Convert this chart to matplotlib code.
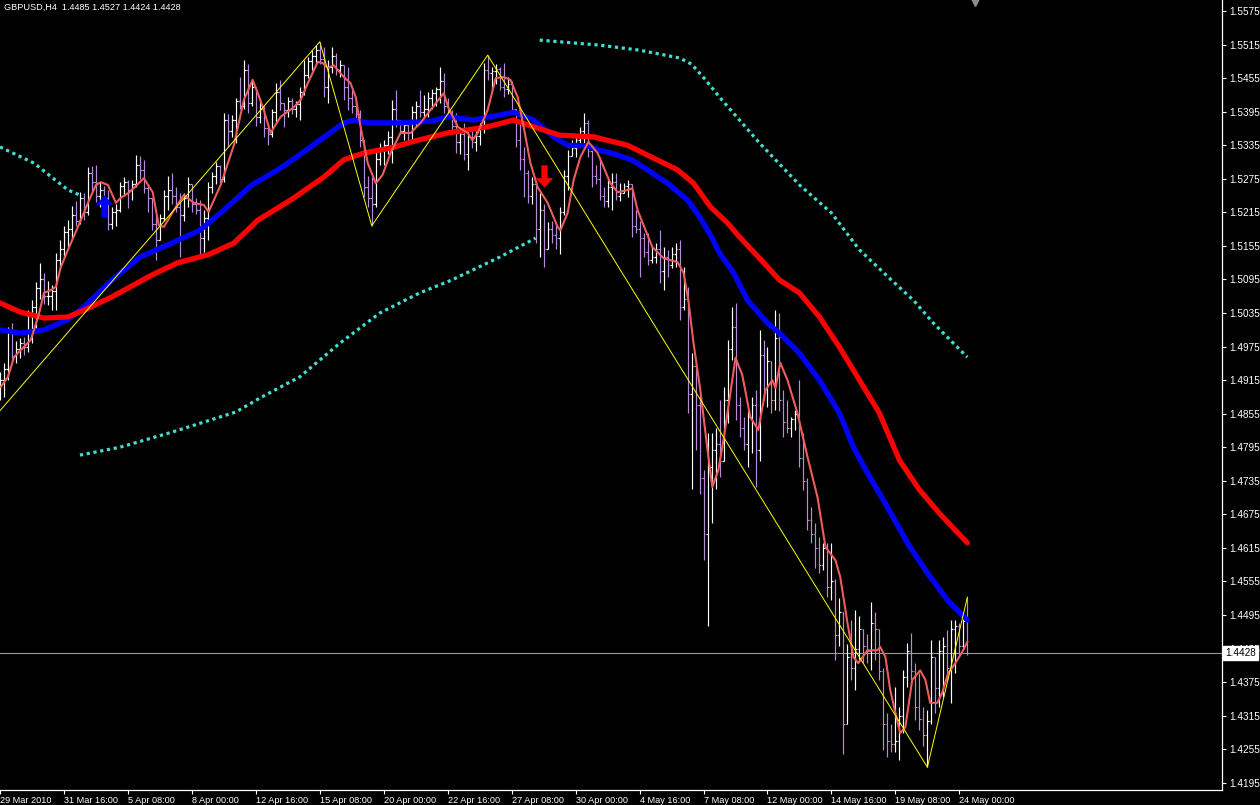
import numpy as np
import matplotlib
matplotlib.use("Agg")
import matplotlib.pyplot as plt
from matplotlib.path import Path
from matplotlib.transforms import blended_transform_factory

# ---------------- data ----------------
symbol = "GBPUSD,H4"
first_open = 1.4895

highs = [
    1.4930, 1.4945, 1.5010, 1.5017, 1.4985, 1.4990, 1.4992, 1.5040, 1.5058, 1.5090,
    1.5124, 1.5106, 1.5092, 1.5085, 1.5142, 1.5166, 1.5190, 1.5201, 1.5226, 1.5235,
    1.5251, 1.5250, 1.5296, 1.5298, 1.5300, 1.5270, 1.5262, 1.5255, 1.5225, 1.5230,
    1.5270, 1.5278, 1.5273, 1.5273, 1.5318, 1.5315, 1.5309, 1.5266, 1.5240, 1.5210,
    1.5212, 1.5255, 1.5280, 1.5285, 1.5260, 1.5250, 1.5250, 1.5278, 1.5265, 1.5240,
    1.5237, 1.5219, 1.5270, 1.5287, 1.5305, 1.5300, 1.5393, 1.5390, 1.5389, 1.5420,
    1.5457, 1.5487, 1.5480, 1.5450, 1.5440, 1.5420, 1.5405, 1.5372, 1.5400, 1.5446,
    1.5452, 1.5410, 1.5421, 1.5420, 1.5415, 1.5439, 1.5487, 1.5493, 1.5505, 1.5515,
    1.5520, 1.5511, 1.5487, 1.5511, 1.5500, 1.5487, 1.5478, 1.5475, 1.5434, 1.5420,
    1.5398, 1.5344, 1.5280, 1.5278, 1.5326, 1.5339, 1.5345, 1.5360, 1.5416, 1.5434,
    1.5380, 1.5380, 1.5375, 1.5405, 1.5415, 1.5434, 1.5425, 1.5430, 1.5435, 1.5439,
    1.5475, 1.5465, 1.5420, 1.5398, 1.5393, 1.5365, 1.5375, 1.5362, 1.5365, 1.5360,
    1.5375, 1.5482, 1.5496, 1.5475, 1.5480, 1.5475, 1.5482, 1.5457, 1.5450, 1.5400,
    1.5375, 1.5332, 1.5291, 1.5278, 1.5270, 1.5250, 1.5230, 1.5197, 1.5200, 1.5195,
    1.5224, 1.5291, 1.5326, 1.5345, 1.5350, 1.5368, 1.5393, 1.5380, 1.5326, 1.5300,
    1.5314, 1.5260, 1.5278, 1.5285, 1.5285, 1.5268, 1.5268, 1.5273, 1.5265, 1.5220,
    1.5200, 1.5178, 1.5178, 1.5155, 1.5160, 1.5183, 1.5153, 1.5148, 1.5153, 1.5160,
    1.5165, 1.5117, 1.5081, 1.4963, 1.4951, 1.4890, 1.4754, 1.4820, 1.4820, 1.4830,
    1.4879, 1.4903, 1.4987, 1.5046, 1.5053, 1.4885, 1.4850, 1.4862, 1.4885, 1.4897,
    1.5005, 1.4987, 1.4975, 1.4950, 1.5040, 1.5035, 1.4897, 1.4879, 1.4850, 1.4862,
    1.4915, 1.4820, 1.4740, 1.4688, 1.4660, 1.4635, 1.4624, 1.4624, 1.4624, 1.4560,
    1.4525, 1.4500, 1.4443, 1.4486, 1.4504, 1.4493, 1.4470, 1.4461, 1.4518, 1.4500,
    1.4470, 1.4400, 1.4320, 1.4300, 1.4366, 1.4330, 1.4396, 1.4445, 1.4463, 1.4410,
    1.4391, 1.4330, 1.4325, 1.4450, 1.4420, 1.4450, 1.4456, 1.4468, 1.4486, 1.4486,
    1.4480, 1.4500, 1.4527,
]
lows = [
    1.4880, 1.4885, 1.4915, 1.4950, 1.4945, 1.4955, 1.4960, 1.4965, 1.4981, 1.5005,
    1.5060, 1.5052, 1.5050, 1.5040, 1.5040, 1.5112, 1.5135, 1.5150, 1.5166, 1.5190,
    1.5195, 1.5201, 1.5210, 1.5250, 1.5233, 1.5225, 1.5216, 1.5183, 1.5185, 1.5190,
    1.5215, 1.5245, 1.5223, 1.5237, 1.5260, 1.5275, 1.5250, 1.5215, 1.5183, 1.5130,
    1.5166, 1.5200, 1.5219, 1.5230, 1.5216, 1.5135, 1.5200, 1.5225, 1.5215, 1.5212,
    1.5139, 1.5144, 1.5166, 1.5250, 1.5265, 1.5267, 1.5270, 1.5332, 1.5350, 1.5339,
    1.5400, 1.5400, 1.5393, 1.5405, 1.5370, 1.5375, 1.5350, 1.5335, 1.5350, 1.5375,
    1.5398, 1.5368, 1.5386, 1.5390, 1.5385, 1.5380, 1.5425, 1.5455, 1.5470, 1.5482,
    1.5480, 1.5421, 1.5411, 1.5464, 1.5460, 1.5457, 1.5416, 1.5398, 1.5393, 1.5380,
    1.5332, 1.5243, 1.5225, 1.5191, 1.5225, 1.5300, 1.5300, 1.5320, 1.5303, 1.5368,
    1.5355, 1.5344, 1.5335, 1.5345, 1.5370, 1.5386, 1.5385, 1.5385, 1.5400, 1.5405,
    1.5411, 1.5393, 1.5385, 1.5362, 1.5321, 1.5320, 1.5309, 1.5291, 1.5330, 1.5325,
    1.5335, 1.5357, 1.5452, 1.5430, 1.5445, 1.5434, 1.5421, 1.5427, 1.5390, 1.5332,
    1.5291, 1.5242, 1.5232, 1.5230, 1.5160, 1.5135, 1.5117, 1.5150, 1.5160, 1.5150,
    1.5140, 1.5210, 1.5255, 1.5315, 1.5314, 1.5338, 1.5330, 1.5314, 1.5260, 1.5265,
    1.5237, 1.5225, 1.5224, 1.5219, 1.5237, 1.5235, 1.5250, 1.5243, 1.5171, 1.5178,
    1.5099, 1.5135, 1.5120, 1.5125, 1.5125, 1.5089, 1.5076, 1.5099, 1.5115, 1.5117,
    1.5023, 1.5040, 1.4856, 1.4720, 1.4790, 1.4711, 1.4593, 1.4475, 1.4660, 1.4720,
    1.4742, 1.4770, 1.4838, 1.4951, 1.4844, 1.4813, 1.4790, 1.4760, 1.4785, 1.4724,
    1.4770, 1.4879, 1.4867, 1.4856, 1.4862, 1.4860, 1.4813, 1.4820, 1.4813, 1.4826,
    1.4760, 1.4719, 1.4647, 1.4624, 1.4580, 1.4570, 1.4575, 1.4527, 1.4522, 1.4414,
    1.4440, 1.4246, 1.4300, 1.4379, 1.4361, 1.4411, 1.4409, 1.4409, 1.4396, 1.4414,
    1.4379, 1.4254, 1.4241, 1.4250, 1.4250, 1.4236, 1.4284, 1.4366, 1.4379, 1.4307,
    1.4289, 1.4260, 1.4223, 1.4300, 1.4320, 1.4330, 1.4348, 1.4379, 1.4338, 1.4391,
    1.4420, 1.4438, 1.4424,
]
closes = [
    1.4915, 1.4935, 1.5000, 1.4958, 1.4970, 1.4982, 1.4975, 1.5030, 1.5045, 1.5080,
    1.5095, 1.5065, 1.5066, 1.5075, 1.5130, 1.5150, 1.5180, 1.5185, 1.5210, 1.5200,
    1.5240, 1.5215, 1.5285, 1.5270, 1.5245, 1.5255, 1.5240, 1.5195, 1.5215, 1.5220,
    1.5262, 1.5270, 1.5255, 1.5265, 1.5300, 1.5290, 1.5258, 1.5240, 1.5195, 1.5165,
    1.5205, 1.5245, 1.5255, 1.5245, 1.5225, 1.5210, 1.5240, 1.5265, 1.5230, 1.5220,
    1.5170, 1.5205, 1.5260, 1.5280, 1.5298, 1.5275, 1.5380, 1.5360, 1.5380, 1.5415,
    1.5405, 1.5470, 1.5410, 1.5440, 1.5385, 1.5400, 1.5365, 1.5355, 1.5395, 1.5430,
    1.5410, 1.5398, 1.5415, 1.5400, 1.5408, 1.5430, 1.5460, 1.5485, 1.5495, 1.5505,
    1.5490, 1.5440, 1.5475, 1.5495, 1.5470, 1.5478, 1.5440, 1.5420, 1.5405, 1.5390,
    1.5345, 1.5260, 1.5240, 1.5230, 1.5310, 1.5330, 1.5335, 1.5350, 1.5400, 1.5380,
    1.5360, 1.5372, 1.5345, 1.5395, 1.5405, 1.5395, 1.5400, 1.5420, 1.5428, 1.5435,
    1.5450, 1.5405, 1.5395, 1.5370, 1.5340, 1.5355, 1.5320, 1.5350, 1.5340, 1.5352,
    1.5370, 1.5470, 1.5465, 1.5468, 1.5472, 1.5440, 1.5435, 1.5445, 1.5400, 1.5345,
    1.5310, 1.5285, 1.5245, 1.5265, 1.5185, 1.5220, 1.5150, 1.5185, 1.5175, 1.5170,
    1.5215, 1.5280, 1.5315, 1.5330, 1.5345, 1.5360, 1.5375, 1.5325, 1.5280, 1.5275,
    1.5245, 1.5235, 1.5260, 1.5270, 1.5245, 1.5250, 1.5262, 1.5265, 1.5190, 1.5185,
    1.5170, 1.5145, 1.5130, 1.5135, 1.5150, 1.5110, 1.5135, 1.5120, 1.5140, 1.5150,
    1.5045, 1.5060, 1.4890, 1.4940, 1.4870, 1.4740, 1.4640, 1.4760, 1.4790, 1.4800,
    1.4770, 1.4880, 1.4970, 1.5010, 1.4870, 1.4830, 1.4800, 1.4850, 1.4870, 1.4790,
    1.4960, 1.4900, 1.4950, 1.4880, 1.4990, 1.4880, 1.4840, 1.4830, 1.4845, 1.4855,
    1.4775, 1.4735, 1.4665, 1.4640, 1.4615, 1.4585, 1.4615, 1.4545, 1.4555, 1.4460,
    1.4500, 1.4300, 1.4420, 1.4400, 1.4435, 1.4470, 1.4440, 1.4430, 1.4480, 1.4470,
    1.4395, 1.4300, 1.4270, 1.4265, 1.4270, 1.4315, 1.4385, 1.4430, 1.4395, 1.4330,
    1.4310, 1.4280, 1.4305, 1.4420, 1.4365, 1.4430, 1.4440, 1.4400, 1.4470, 1.4475,
    1.4440, 1.4485, 1.4428,
]

# fast smoothed line (salmon)
fast_x = [0.2, 2, 3.5, 5.2, 7.7, 8.5, 9.7, 11, 12.7, 14,
          15.2, 17, 19.5, 22, 24, 25.2, 27, 29, 30.2, 32.2,
          36, 38.2, 39.7, 41, 43.5, 46, 48.5, 51, 52.2, 55.2,
          58.5, 61, 63.2, 64.5, 66, 67.7, 70.2, 73.5, 75.2, 77,
          79.5, 80.7, 82, 83.5, 86, 87.7, 89, 90.2, 92, 94,
          95.7, 97.7, 100.2, 102.7, 105.2, 107.7, 111, 112.2, 114.5, 117,
          118.2, 119.5, 122, 124, 126, 127.7, 129.5, 131, 132.7, 134.5,
          137, 139.5, 140.2, 142, 143.5, 145.2, 147.2, 149.5, 151, 152.7,
          154.5, 157, 158.2, 159.5, 161.5, 163.2, 166, 169.5, 171, 172.2,
          173.5, 175.2, 177, 178.2, 179.7, 181, 182.7, 184, 185.7, 187.7,
          189.7, 191.5, 193.2, 194, 195.2, 197, 199.5, 202, 204.5, 206.5,
          209, 210.2, 212, 213.5, 214.7, 217, 219.5, 220.2, 221.5, 222.7,
          224, 225.2, 226.5, 228.2, 230.2, 231.5, 232.7, 234.5, 235.7, 237.2,
          239, 240.7, 242]
fast_y = [1.4903, 1.4921, 1.4956, 1.4969, 1.4987, 1.5005, 1.5032, 1.5071, 1.5076, 1.5082,
          1.5117, 1.5148, 1.5189, 1.5232, 1.5264, 1.5269, 1.5264, 1.5232, 1.5241, 1.5250,
          1.5276, 1.5251, 1.5192, 1.5189, 1.5219, 1.5246, 1.5232, 1.5228, 1.5216, 1.5264,
          1.5335, 1.5416, 1.5452, 1.5428, 1.5398, 1.5357, 1.5386, 1.5403, 1.5416, 1.5446,
          1.5484, 1.5482, 1.5473, 1.5478, 1.5457, 1.5446, 1.5421, 1.5368, 1.5303, 1.5267,
          1.5282, 1.5321, 1.5357, 1.5357, 1.5375, 1.5398, 1.5428, 1.5402, 1.5368, 1.5357,
          1.5344, 1.5357, 1.5398, 1.5455, 1.5457, 1.5452, 1.5421, 1.5368, 1.5303, 1.5260,
          1.5232, 1.5189, 1.5183, 1.5214, 1.5273, 1.5314, 1.5341, 1.5321, 1.5296, 1.5267,
          1.5251, 1.5255, 1.5258, 1.5219, 1.5183, 1.5153, 1.5133, 1.5126, 1.5107, 1.5058,
          1.4981, 1.4897, 1.4790, 1.4724, 1.4754, 1.4808, 1.4892, 1.4955, 1.4924, 1.4849,
          1.4826, 1.4897, 1.4915, 1.4901, 1.4946, 1.4915, 1.4856, 1.4778, 1.4706, 1.4617,
          1.4593, 1.4563, 1.4481, 1.4420, 1.4409, 1.4432, 1.4432, 1.4438, 1.4420, 1.4361,
          1.4320, 1.4284, 1.4295, 1.4379, 1.4396, 1.4379, 1.4338, 1.4338, 1.4356, 1.4391,
          1.4409, 1.4429, 1.4447]

# medium moving average (blue)
mid_x = [0, 5, 11, 17, 21, 28, 35, 42, 50, 56,
         63, 69.5, 75, 80, 86, 88.5, 92, 100, 108, 112,
         118.5, 128.5, 133.5, 138.5, 142, 147, 150, 153, 158, 162,
         167, 172, 175, 178, 180, 183.5, 187, 192, 195, 200,
         205, 210, 213.5, 217, 222, 227, 232, 237, 242]
mid_y = [1.5005, 1.4999, 1.5005, 1.5023, 1.5046, 1.5094, 1.5135, 1.5157, 1.5183, 1.5219,
         1.5264, 1.5291, 1.5318, 1.5344, 1.5375, 1.5380, 1.5375, 1.5375, 1.5378, 1.5386,
         1.5380, 1.5394, 1.5380, 1.5350, 1.5335, 1.5334, 1.5326, 1.5321, 1.5309, 1.5291,
         1.5267, 1.5237, 1.5207, 1.5171, 1.5142, 1.5107, 1.5058, 1.5017, 1.4999, 1.4963,
         1.4915, 1.4856, 1.4795, 1.4749, 1.4688, 1.4624, 1.4570, 1.4522, 1.4486]

# slow moving average (red)
slow_x = [0, 5, 11, 17, 21, 28, 38, 44.5, 52, 58.5,
          64.5, 72.7, 81, 86, 91, 97.7, 104.5, 112, 122, 128.5,
          133.5, 140, 148.5, 157, 163.5, 169.5, 173.5, 177.7, 182, 185,
          190, 195, 200, 205, 210, 215, 220, 225, 230, 235, 242]
slow_y = [1.5053, 1.5037, 1.5026, 1.5028, 1.5040, 1.5064, 1.5103, 1.5125, 1.5139, 1.5160,
          1.5201, 1.5237, 1.5278, 1.5309, 1.5321, 1.5330, 1.5344, 1.5357, 1.5368, 1.5380,
          1.5368, 1.5353, 1.5350, 1.5335, 1.5312, 1.5291, 1.5267, 1.5225, 1.5196, 1.5171,
          1.5133, 1.5094, 1.5071, 1.5028, 1.4974, 1.4915, 1.4856, 1.4772, 1.4719, 1.4677,
          1.4624]

# dotted trend-band segments (turquoise)
band1_x = [0, 8.5, 17, 20]
band1_y = [1.5332, 1.5303, 1.5255, 1.5246]
band2_x = [20, 30, 43, 59, 65, 75, 85, 95, 105, 113, 125, 134]
band2_y = [1.4781, 1.4795, 1.4822, 1.4858, 1.4883, 1.4921, 1.4981, 1.5035, 1.5071, 1.5094, 1.5135, 1.5169]
band3_x = [135, 150, 160, 170, 173, 176.5, 180, 190, 200, 208, 215, 223, 228.5, 233.5, 242]
band3_y = [1.5523, 1.5514, 1.5505, 1.5491, 1.5480, 1.5452, 1.5421, 1.5339, 1.5264, 1.5214,
           1.5148, 1.5094, 1.5058, 1.5017, 1.4956]

# zigzag pivots
zz_x = [-2, 80, 93, 122, 232, 242]
zz_y = [1.4844, 1.5520, 1.5191, 1.5496, 1.4223, 1.4527]

# signal arrows
buy_signal = (26, 1.5226)
sell_signal = (136, 1.5280)

price_ticks = [1.5575, 1.5515, 1.5455, 1.5395, 1.5335, 1.5275, 1.5215, 1.5155, 1.5095,
               1.5035, 1.4975, 1.4915, 1.4855, 1.4795, 1.4735, 1.4675, 1.4615, 1.4555,
               1.4495, 1.4435, 1.4375, 1.4315, 1.4255, 1.4195]
date_labels = ['29 Mar 2010', '31 Mar 16:00', '5 Apr 08:00', '8 Apr 00:00', '12 Apr 16:00',
               '15 Apr 08:00', '20 Apr 00:00', '22 Apr 16:00', '27 Apr 08:00', '30 Apr 00:00',
               '4 May 16:00', '7 May 08:00', '12 May 00:00', '14 May 16:00', '19 May 08:00',
               '24 May 00:00']
bars_per_label = 16

# ---------------- drawing ----------------
FONT = ['Liberation Sans', 'DejaVu Sans']
plt.rcParams['font.family'] = FONT

W, H = 1260, 805
fig = plt.figure(figsize=(W / 100, H / 100), dpi=100, facecolor='black')
ax = fig.add_axes([0, 15 / H, 1222 / W, 790 / H], facecolor='black')

highs = np.array(highs); lows = np.array(lows); closes = np.array(closes)
opens = np.concatenate([[first_open], closes[:-1]])
n = len(closes)
x = np.arange(n)
UP = 'white'
DOWN = '#b98ad8'
cols = np.where(closes >= opens, UP, DOWN)

ax.axhline(closes[-1], color='#9a9a9a', lw=0.8, zorder=1)

ax.vlines(x, lows, highs, colors=cols, lw=0.85, zorder=2)
ax.hlines(opens, x - 0.45, x, colors=cols, lw=0.85, zorder=2)
ax.hlines(closes, x, x + 0.45, colors=cols, lw=0.85, zorder=2)

TURQ = '#40e0d0'
for bx, by in ((band1_x, band1_y), (band2_x, band2_y), (band3_x, band3_y)):
    ax.plot(bx, by, color=TURQ, lw=2.3, linestyle=(0, (1, 1.15)),
            dash_capstyle='butt', zorder=3)

ax.plot(mid_x, mid_y, color='#0000ff', lw=3.8, solid_capstyle='round',
        solid_joinstyle='round', zorder=4)
ax.plot(slow_x, slow_y, color='#ff0000', lw=3.8, solid_capstyle='round',
        solid_joinstyle='round', zorder=5)
ax.plot(fast_x, fast_y, color='#ee5c5c', lw=1.5, solid_joinstyle='round', zorder=6)
ax.plot(zz_x, zz_y, color='#ffff00', lw=0.7, zorder=7)

up_verts = [(0, 1), (0.78, 0.15), (0.28, 0.15), (0.28, -1), (-0.28, -1),
            (-0.28, 0.15), (-0.78, 0.15), (0, 1)]
up_marker = Path(up_verts)
down_marker = Path([(vx, -vy) for vx, vy in up_verts])
ax.plot([buy_signal[0]], [buy_signal[1]], marker=up_marker, markersize=16,
        color='#0000ff', mew=0, linestyle='none', zorder=8)
ax.plot([sell_signal[0]], [sell_signal[1]], marker=down_marker, markersize=16,
        color='#ff0000', mew=0, linestyle='none', zorder=8)

ax.set_xlim(0.225, 305.7)
ax.set_ylim(1.41822, 1.55947)

for s in ('top', 'left'):
    ax.spines[s].set_visible(False)
for s in ('right', 'bottom'):
    ax.spines[s].set_color('white')
    ax.spines[s].set_linewidth(0.9)

ax.yaxis.tick_right()
ax.set_yticks(price_ticks)
ax.set_yticklabels([f"{p:.4f}" for p in price_ticks])
ax.tick_params(axis='y', colors='white', length=3, width=0.8, pad=2, labelsize=7.2)

date_ticks = list(range(0, bars_per_label * len(date_labels), bars_per_label))
ax.set_xticks(date_ticks)
ax.set_xticklabels(date_labels, ha='left')
ax.tick_params(axis='x', colors='white', length=3, width=0.8, pad=1, labelsize=6.6)
for lab in ax.get_xticklabels():
    lab.set_horizontalalignment('left')

# current price tag
tr = blended_transform_factory(ax.transAxes, ax.transData)
ax.text(1.0 + 3 / 1222, closes[-1], f"{closes[-1]:.4f}", transform=tr, ha='left',
        va='center', color='black', fontsize=7.2, clip_on=False, zorder=20,
        bbox=dict(boxstyle='square,pad=0.2', fc='white', ec='white'))

# chart shift marker
ax.plot([244], [0.997], marker='v', markersize=6, color='#8c8c8c',
        transform=ax.get_xaxis_transform(), clip_on=False, zorder=9)

# header
fig.text(4 / W, 1 - 7 / H,
         f"{symbol}  {opens[-1]:.4f} {highs[-1]:.4f} {lows[-1]:.4f} {closes[-1]:.4f}",
         color='white', fontsize=6.6, ha='left', va='center')

fig.savefig('out.png', dpi=100, facecolor='black')
